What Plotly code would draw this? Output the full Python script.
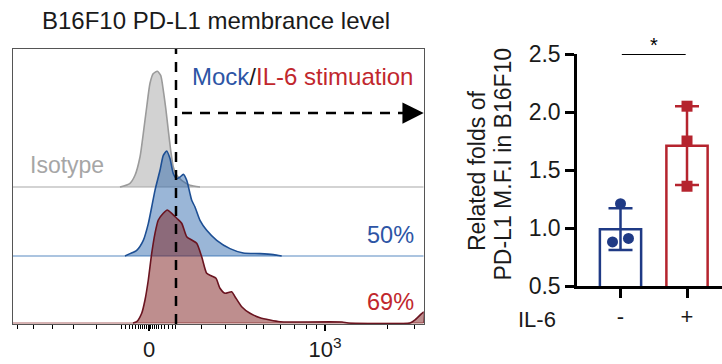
import plotly.graph_objects as go

# ---------------- data ----------------
# Left panel: offset histograms on a logicle display scale (display units)
ISO_X = [107, 117, 122, 127, 130.3, 133.7, 137, 140.3, 144.3, 147.7, 150.3, 153, 155.3,
         157.7, 160.3, 163.7, 168.7, 177, 187]
ISO_H = [0, 3.7, 11.7, 30, 53.7, 80, 103.7, 113.4, 115.7, 111.7, 96.7, 76.7, 56.7,
         36.7, 20, 11.7, 6.7, 1.7, 0]

MOCK_X = [112, 117, 123.7, 130.3, 135.3, 138.7, 142, 147, 150.3, 153.7, 157, 160.3, 163.7,
          167, 170.3, 173.7, 177, 178.7, 182, 187, 193.7, 203.7, 217, 230.3, 247, 260.3, 268.7]
MOCK_H = [0, 2.4, 5.7, 15.7, 32.4, 49, 65.7, 85.7, 100.7, 105, 97.4, 82.4, 77.4,
          79, 81.7, 75.7, 62.4, 55.7, 49, 35.7, 25.7, 15.7, 7.4, 3, 2.4, 1.4, 0]

IL6_X = [120, 123.7, 128.7, 132, 135.3, 138.7, 142, 145.3, 150.3, 154.3, 158.7, 163.7, 168.7,
         173.7, 178.7, 183.7, 188.7, 193.7, 198.7, 203, 207, 212, 218.7, 222, 228.7, 237,
         247, 257, 267, 280, 329, 335, 397, 403, 410.7, 410.7]
IL6_H = [0, 1.3, 9.7, 23, 43, 69.7, 89.7, 103, 109.7, 113, 109.7, 104.7, 99.7,
         86.3, 83, 79.7, 66.3, 49.7, 47, 44.7, 34.7, 29.7, 31.3, 26.3, 16.3, 9.7,
         5.3, 3, 1.3, 1, 1, 0, 0, 4, 11, 0]

HIST_NAMES = ["Isotype", "Mock", "IL-6 stimuation"]
HIST_OFFSETS = [136, 67, 0]          # stacking offsets of the three histograms
PERCENTS = ["", "50%", "69%"]
GATE_X = 163                         # gate position (display units)
ARROW_Y = 210
X_TICKVALS = [136, 312]
X_TICKTEXT = ["0", "10<sup>3</sup>"]
X_MINOR = [4, 20, 39, 60, 83, 108, 112, 116, 119, 122, 125, 127, 129, 131, 133, 135, 137,
           139, 141, 143, 145, 148, 151, 155, 159, 162, 188, 212, 233, 250, 267, 281, 293,
           303, 374, 401]
LEFT_XRANGE = [0, 410.7]
LEFT_YRANGE = [-1, 274]

# Right panel: bar chart
GROUPS = ["-", "+"]
MEANS = [0.99, 1.71]
SDS = [0.18, 0.34]
MOCK_PTS = [1.21, 0.88, 0.91]
IL6_PTS = [2.05, 1.75, 1.36]
MOCK_JITTER = [0, -0.12, 0.12]
SIG_Y = 2.5

FONT = "Liberation Sans, Arial, Helvetica, sans-serif"
BLUE_TXT = "#2D55A5"
RED_TXT = "#C1272D"
NAVY = "#1F3A85"
RED = "#B5242E"

fig = go.Figure()

# ---------------- left: histograms ----------------
styles = [
    dict(line="#9B9B9B", fill="rgba(165,165,165,0.5)", base="#C4C4C4"),
    dict(line="#1D4F94", fill="rgba(40,100,170,0.47)", base="#8FB0D6"),
    dict(line="#6A1420", fill="rgba(125,30,30,0.5)", base="#C99A9A"),
]
hx = [ISO_X, MOCK_X, IL6_X]
hh = [ISO_H, MOCK_H, IL6_H]
for i in range(3):
    off = HIST_OFFSETS[i]
    st = styles[i]
    fig.add_trace(go.Scatter(x=LEFT_XRANGE, y=[off, off], mode="lines",
                             line=dict(color=st["base"], width=1.5),
                             hoverinfo="skip", showlegend=False, xaxis="x", yaxis="y"))
    fig.add_trace(go.Scatter(x=hx[i], y=[off + v for v in hh[i]], mode="lines",
                             fill="toself", fillcolor=st["fill"],
                             line=dict(color=st["line"], width=1.6, shape="spline", smoothing=0.6),
                             name=HIST_NAMES[i], showlegend=False, xaxis="x", yaxis="y"))

# gate: vertical dashed line and horizontal dashed arrow
fig.add_trace(go.Scatter(x=[GATE_X, GATE_X], y=LEFT_YRANGE, mode="lines",
                         line=dict(color="black", width=2.5, dash="10px,8px"),
                         hoverinfo="skip", showlegend=False, xaxis="x", yaxis="y"))
fig.add_trace(go.Scatter(x=[GATE_X + 6, LEFT_XRANGE[1] - 14], y=[ARROW_Y, ARROW_Y], mode="lines",
                         line=dict(color="black", width=2.5, dash="10px,8px"),
                         hoverinfo="skip", showlegend=False, xaxis="x", yaxis="y"))

annotations = []
annotations.append(dict(x=LEFT_XRANGE[1], y=ARROW_Y, ax=LEFT_XRANGE[1] - 16, ay=ARROW_Y,
                        xref="x", yref="y", axref="x", ayref="y", text="", showarrow=True,
                        arrowhead=2, arrowsize=1.7, arrowwidth=2.5, arrowcolor="black"))
annotations.append(dict(x=15, y=158, xref="x", yref="y", text=HIST_NAMES[0], showarrow=False,
                        xanchor="left", yanchor="middle", font=dict(size=23, color="#A6A6A6")))
annotations.append(dict(x=177, y=246, xref="x", yref="y",
                        text=f'<span style="color:{BLUE_TXT}">{HIST_NAMES[1]}</span>'
                             f'<span style="color:#1a1a1a">/</span>'
                             f'<span style="color:{RED_TXT}">{HIST_NAMES[2]}</span>',
                        showarrow=False, xanchor="left", yanchor="middle", font=dict(size=24)))
pct_y = [None, 88, 21]
pct_c = [None, BLUE_TXT, RED_TXT]
for i in (1, 2):
    annotations.append(dict(x=403, y=pct_y[i], xref="x", yref="y", text=PERCENTS[i],
                            showarrow=False, xanchor="right", yanchor="middle",
                            font=dict(size=23.5, color=pct_c[i])))
annotations.append(dict(x=215.5 / 722, y=(364 - 20) / 364, xref="paper", yref="paper",
                        text="B16F10 PD-L1 membrance level", showarrow=False,
                        xanchor="center", yanchor="middle", font=dict(size=24, color="#1a1a1a")))

# ---------------- right: bar chart ----------------
bar_colors = [NAVY, RED]
for i in range(2):
    fig.add_trace(go.Bar(x=[i], y=[MEANS[i]], width=0.62, base=0,
                         marker=dict(color="white", line=dict(color=bar_colors[i], width=2.5)),
                         error_y=dict(type="data", array=[SDS[i]], color=bar_colors[i],
                                      thickness=2.5, width=12),
                         showlegend=False, xaxis="x2", yaxis="y2"))
fig.add_trace(go.Scatter(x=[0 + j for j in MOCK_JITTER], y=MOCK_PTS, mode="markers",
                         marker=dict(symbol="circle", size=11, color=NAVY),
                         showlegend=False, xaxis="x2", yaxis="y2"))
fig.add_trace(go.Scatter(x=[1, 1, 1], y=IL6_PTS, mode="markers",
                         marker=dict(symbol="square", size=11, color=RED),
                         showlegend=False, xaxis="x2", yaxis="y2"))
fig.add_trace(go.Scatter(x=[0.02, 0.98], y=[SIG_Y, SIG_Y], mode="lines",
                         line=dict(color="black", width=2), cliponaxis=False,
                         showlegend=False, xaxis="x2", yaxis="y2"))
annotations.append(dict(x=0.5, y=SIG_Y, xref="x2", yref="y2", text="*", showarrow=False,
                        yanchor="bottom", yshift=-4, font=dict(size=20, color="black")))
annotations.append(dict(x=477 / 722, y=(364 - 171) / 364, xref="paper", yref="paper",
                        text="Related folds of", textangle=-90, showarrow=False,
                        xanchor="center", yanchor="middle", font=dict(size=23, color="#1a1a1a")))
annotations.append(dict(x=502.5 / 722, y=(364 - 164) / 364, xref="paper", yref="paper",
                        text="PD-L1 M.F.I in B16F10", textangle=-90, showarrow=False,
                        xanchor="center", yanchor="middle", font=dict(size=23, color="#1a1a1a")))
annotations.append(dict(x=558 / 722, y=(364 - 319) / 364, xref="paper", yref="paper",
                        text="IL-6", showarrow=False, xanchor="right", yanchor="middle",
                        font=dict(size=22, color="#1a1a1a")))

fig.update_layout(
    width=722, height=364, margin=dict(l=0, r=0, t=0, b=0, pad=0), autosize=False,
    paper_bgcolor="white", plot_bgcolor="white",
    font=dict(family=FONT, color="#1a1a1a"),
    barmode="overlay", showlegend=False,
    annotations=annotations,
    xaxis=dict(domain=[13 / 722, 423.7 / 722], range=LEFT_XRANGE, showgrid=False, zeroline=False,
               automargin=False,
               showline=True, linecolor="#555555", linewidth=1, mirror=True,
               tickmode="array", tickvals=X_TICKVALS, ticktext=X_TICKTEXT,
               ticks="outside", ticklen=6, tickwidth=1.5, tickcolor="black",
               tickfont=dict(size=22, color="#1a1a1a"),
               minor=dict(tickmode="array", tickvals=X_MINOR, ticks="outside", ticklen=4,
                          tickwidth=1, tickcolor="black", showgrid=False)),
    yaxis=dict(domain=[(364 - 324) / 364, (364 - 49) / 364], range=LEFT_YRANGE, showgrid=False,
               automargin=False,
               zeroline=False, showline=True, linecolor="#555555", linewidth=1, mirror=True,
               showticklabels=False, ticks=""),
    xaxis2=dict(domain=[577 / 722, 1.0], range=[-0.654, 1.526], showgrid=False, zeroline=False,
                automargin=False,
                showline=True, linecolor="black", linewidth=2.5, anchor="y2",
                tickmode="array", tickvals=[0, 1], ticktext=GROUPS,
                ticks="outside", ticklen=9, tickwidth=2.5, tickcolor="black",
                tickfont=dict(size=22, color="#1a1a1a")),
    yaxis2=dict(domain=[(364 - 286) / 364, (364 - 54) / 364], range=[0.5, 2.5], anchor="x2",
                automargin=False,
                showgrid=False, zeroline=False, showline=True, linecolor="black", linewidth=2.5,
                tickmode="linear", tick0=0.5, dtick=0.5, tickformat=".1f",
                ticks="outside", ticklen=9, tickwidth=2.5, tickcolor="black",
                tickfont=dict(size=23, color="#1a1a1a")),
)

fig.write_html("out.html")
